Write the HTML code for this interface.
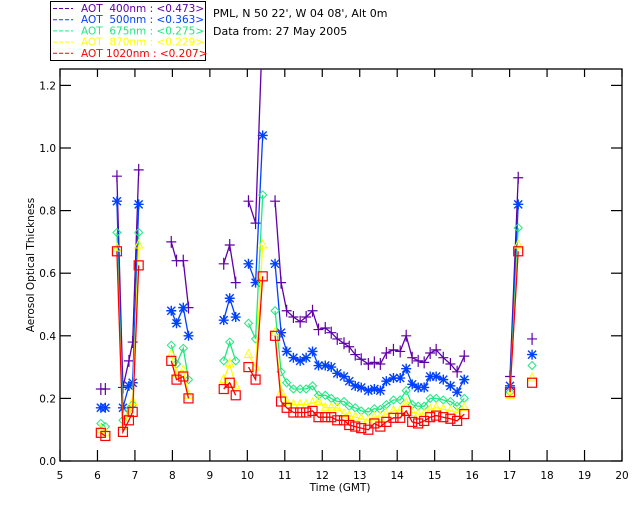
<!DOCTYPE html>
<html><head><meta charset="utf-8"><style>
html,body{margin:0;padding:0;background:#fff;}
svg{display:block;font-family:"DejaVu Sans","Liberation Sans",sans-serif;}
</style></head><body>
<svg id="chart" width="640" height="512" viewBox="0 0 640 512">
<defs><clipPath id="plotclip"><rect x="60" y="69" width="562" height="392"/></clipPath></defs>
<g>
<rect x="50.5" y="1.5" width="155" height="59" fill="#fff" stroke="#000" stroke-width="1"/>
<g id="legend-rows"></g>
</g>
<text x="213" y="17" font-size="11" fill="#000">PML, N 50 22', W 04 08', Alt 0m</text>
<text x="213" y="35" font-size="11" fill="#000">Data from: 27 May 2005</text>
<g id="axes"></g>
<g id="series" clip-path="url(#plotclip)"></g>
<text x="340" y="491" font-size="10.5" text-anchor="middle">Time (GMT)</text>
<text transform="translate(34,265) rotate(-90)" font-size="10.5" text-anchor="middle">Aerosol Optical Thickness</text>
</svg>
<script>
const times = [6.09,6.21,null,6.52,6.68,6.84,6.94,7.10,null,7.97,8.11,8.29,8.43,null,9.37,9.53,9.69,null,10.03,10.22,10.41,null,
10.74,10.90,11.05,11.23,11.41,11.57,11.74,11.90,12.08,12.24,12.40,12.58,12.72,12.88,13.04,13.23,13.39,13.55,13.71,13.90,14.08,14.24,14.40,14.56,14.72,14.88,15.04,15.23,15.42,15.60,15.79,null,17.01,17.23,null,17.60];
const aot400 = [0.23,0.23,null,0.91,0.235,0.32,0.38,0.93,null,0.70,0.64,0.64,0.49,null,0.63,0.69,0.57,null,0.83,0.76,1.40,null,
0.83,0.57,0.48,0.46,0.445,0.46,0.48,0.42,0.425,0.41,0.39,0.376,0.365,0.34,0.325,0.31,0.315,0.31,0.345,0.355,0.35,0.40,0.33,0.32,0.315,0.345,0.355,0.33,0.31,0.285,0.335,null,0.27,0.905,null,0.39];
const aot500 = [0.17,0.17,null,0.83,0.17,0.24,0.25,0.82,null,0.48,0.44,0.49,0.40,null,0.45,0.52,0.46,null,0.63,0.57,1.04,null,
0.63,0.41,0.35,0.33,0.32,0.33,0.35,0.305,0.305,0.30,0.28,0.27,0.255,0.24,0.235,0.225,0.23,0.225,0.255,0.265,0.265,0.295,0.245,0.235,0.235,0.27,0.27,0.26,0.24,0.22,0.26,null,0.24,0.82,null,0.34];
const aot675 = [0.12,0.11,null,0.73,0.13,0.165,0.18,0.73,null,0.37,0.31,0.36,0.26,null,0.32,0.38,0.32,null,0.44,0.39,0.85,null,
0.48,0.285,0.25,0.23,0.23,0.23,0.24,0.21,0.21,0.20,0.19,0.19,0.175,0.17,0.16,0.157,0.167,0.165,0.18,0.195,0.195,0.225,0.18,0.175,0.175,0.20,0.20,0.195,0.19,0.175,0.20,null,0.22,0.745,null,0.305];
const aot870 = [0.10,0.09,null,0.68,0.11,0.15,0.19,0.69,null,0.34,0.28,0.29,0.21,null,0.26,0.31,0.24,null,0.34,0.30,0.69,null,
0.41,0.22,0.19,0.18,0.18,0.18,0.185,0.19,0.17,0.17,0.17,0.15,0.145,0.14,0.135,0.13,0.14,0.14,0.15,0.16,0.16,0.185,0.155,0.15,0.15,0.165,0.17,0.165,0.16,0.155,0.17,null,0.21,0.69,null,0.265];
const aot1020 = [0.09,0.08,null,0.67,0.093,0.13,0.157,0.625,null,0.32,0.26,0.27,0.20,null,0.23,0.25,0.21,null,0.30,0.26,0.59,null,
0.40,0.19,0.17,0.155,0.155,0.155,0.16,0.14,0.14,0.14,0.13,0.13,0.115,0.11,0.105,0.10,0.12,0.11,0.125,0.138,0.138,0.16,0.125,0.12,0.128,0.14,0.145,0.14,0.135,0.128,0.15,null,0.22,0.67,null,0.25];
const legendLabels = ["AOT  400nm : <0.473>","AOT  500nm : <0.363>","AOT  675nm : <0.275>","AOT  870nm : <0.229>","AOT 1020nm : <0.207>"];
const xTicks = [5,6,7,8,9,10,11,12,13,14,15,16,17,18,19,20];
const yTicks = [0.0,0.2,0.4,0.6,0.8,1.0,1.2];

const NS="http://www.w3.org/2000/svg";
const X0=60,X1=622,Y0=461,YT=69;
function xs(t){return X0+(t-5)*(X1-X0)/15;}
function ys(v){return Y0-v*313;}
function mk(tag,attrs,parent){const e=document.createElementNS(NS,tag);for(const k in attrs)e.setAttribute(k,attrs[k]);parent.appendChild(e);return e;}

const axes=document.getElementById('axes');
const frame=mk('rect',{x:X0,y:YT,width:X1-X0,height:Y0-YT,fill:'none',stroke:'#000','stroke-width':1.3},axes);


xTicks.forEach(t=>{
  const x=xs(t);
  const b=mk('line',{x1:x,y1:Y0,x2:x,y2:Y0-11,stroke:'#000','stroke-width':1.2},axes);
  
  
  const tp=mk('line',{x1:x,y1:YT,x2:x,y2:YT+8,stroke:'#000','stroke-width':1.2},axes);
  
  
  const lb=mk('text',{x:x,y:Y0+18,'font-size':10.5,'text-anchor':'middle'},axes);
  lb.textContent=String(t);
  
  
});
yTicks.forEach(v=>{
  const y=ys(v);
  const l=mk('line',{x1:X0,y1:y,x2:X0+11,y2:y,stroke:'#000','stroke-width':1.2},axes);
  
  
  const r=mk('line',{x1:X1,y1:y,x2:X1-11,y2:y,stroke:'#000','stroke-width':1.2},axes);
  
  
  const lb=mk('text',{x:X0-4,y:y+4,'font-size':10.5,'text-anchor':'end'},axes);
  lb.textContent=v.toFixed(1);
  
  
});

const colors=['#6000a8','#0040ff','#20e880','#ffff00','#ff0000'];
const seriesData=[aot400,aot500,aot675,aot870,aot1020];
const markers=['plus','star','diamond','triangle','square'];
const seriesNames=['series-400nm','series-500nm','series-675nm','series-870nm','series-1020nm'];
const sg=document.getElementById('series');
function marker(kind,x,y,c,g){
  let e;
  if(kind==='plus') e=mk('path',{d:`M${x-5},${y}H${x+5}M${x},${y-6}V${y+6}`,stroke:c,'stroke-width':1.2,fill:'none'},g);
  else if(kind==='star') e=mk('path',{d:`M${x-5},${y}H${x+5}M${x},${y-5}V${y+5}M${x-4},${y-4}L${x+4},${y+4}M${x-4},${y+4}L${x+4},${y-4}`,stroke:c,'stroke-width':1.4,fill:'none'},g);
  else if(kind==='diamond') e=mk('path',{d:`M${x},${y-4}L${x+4},${y}L${x},${y+4}L${x-4},${y}Z`,stroke:c,'stroke-width':1,fill:'none'},g);
  else if(kind==='triangle') e=mk('path',{d:`M${x},${y-5}L${x+4},${y+3}L${x-4},${y+3}Z`,stroke:c,'stroke-width':1,fill:'none'},g);
  else e=mk('rect',{x:x-4.5,y:y-4.5,width:9,height:9,stroke:c,'stroke-width':1.2,fill:'none'},g);
  
  
}
seriesData.forEach((vals,si)=>{
  const g=mk('g',{},sg);
  
  
  let d='',pen=false;
  times.forEach((t,i)=>{
    if(t===null||vals[i]===null){pen=false;return;}
    d+=(pen?'L':'M')+xs(t).toFixed(1)+','+ys(vals[i]).toFixed(1);pen=true;
  });
  const p=mk('path',{d:d,stroke:colors[si],'stroke-width':1.3,fill:'none'},g);
  
  
  times.forEach((t,i)=>{
    if(t===null||vals[i]===null)return;
    marker(markers[si],xs(t),ys(vals[i]),colors[si],g);
  });
});

const lr=document.getElementById('legend-rows');
legendLabels.forEach((lab,i)=>{
  const y=12+i*11.2;
  const g=mk('g',{},lr);
  
  
  mk('line',{x1:53,y1:y-3.5,x2:73,y2:y-3.5,stroke:colors[i],'stroke-width':1,'stroke-dasharray':'4,2'},g);
  const tx=mk('text',{x:81,y:y,'font-size':10.5,fill:colors[i],'xml:space':'preserve'},g);
  tx.setAttribute('style','white-space:pre');
  tx.textContent=lab;
});
</script>
</body></html>
